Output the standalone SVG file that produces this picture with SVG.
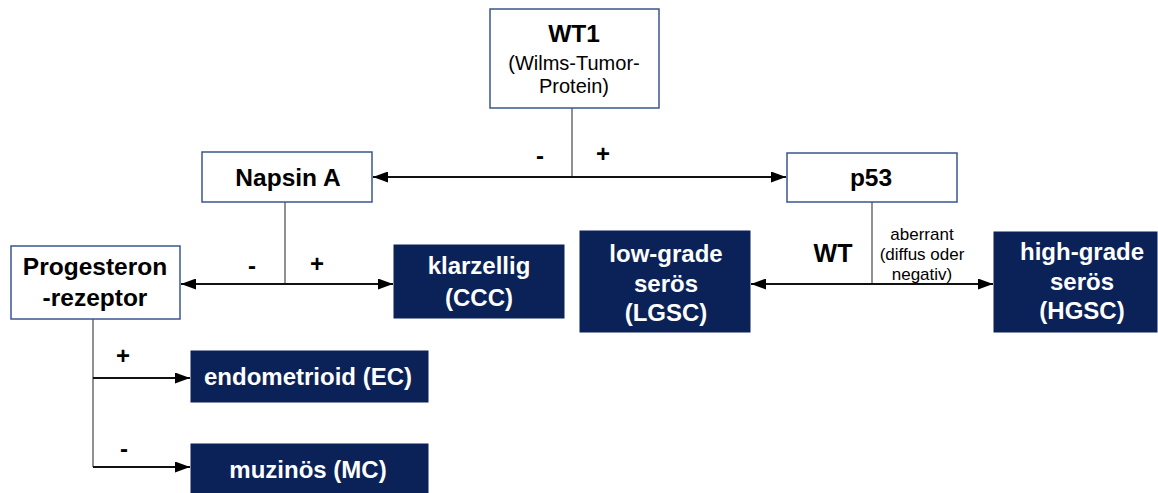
<svg xmlns="http://www.w3.org/2000/svg" width="1158" height="493" viewBox="0 0 1158 493">
<style>
.wbox{fill:#fff;stroke:#3b5592;stroke-width:1.5}
.dbox{fill:#0b2259;stroke:#0b2259;stroke-width:1}
.t{font-family:"Liberation Sans",Arial,sans-serif;text-anchor:middle;dominant-baseline:central}
.b{font-weight:bold}
.w{fill:#fff;font-weight:bold;font-size:24px}
.k{fill:#000}
.ln{stroke:#111;stroke-width:1.8;fill:none}
.vl{stroke:#555;stroke-width:1.3;fill:none}
</style>
<defs>
<marker id="ah" markerWidth="15" markerHeight="11" refX="15" refY="5.5" orient="auto-start-reverse" markerUnits="userSpaceOnUse">
<path d="M0,0 L15,5.5 L0,11 Z" fill="#000"/>
</marker>
</defs>
<g id="connectors">
<line class="vl" x1="572" y1="108" x2="572" y2="177"/>
<line class="ln" x1="373" y1="177" x2="786" y2="177" marker-start="url(#ah)" marker-end="url(#ah)"/>
<line class="vl" x1="285" y1="202" x2="285" y2="284"/>
<line class="ln" x1="181" y1="284" x2="393" y2="284" marker-start="url(#ah)" marker-end="url(#ah)"/>
<line class="vl" x1="872" y1="202" x2="872" y2="284"/>
<line class="ln" x1="751" y1="284" x2="993" y2="284" marker-start="url(#ah)" marker-end="url(#ah)"/>
<polyline class="vl" points="93,319 93,467"/>
<line class="ln" x1="93" y1="378" x2="190" y2="378" marker-end="url(#ah)"/>
<line class="ln" x1="93" y1="467" x2="190" y2="467" marker-end="url(#ah)"/>
<text class="t b k" x="540" y="155" font-size="24">-</text>
<text class="t b k" x="603" y="153" font-size="24">+</text>
<text class="t b k" x="252" y="265" font-size="24">-</text>
<text class="t b k" x="317" y="263" font-size="24">+</text>
<text class="t b k" x="123" y="355" font-size="24">+</text>
<text class="t b k" x="124" y="448" font-size="24">-</text>
<text class="t b k" x="833" y="253" font-size="25">WT</text>
<text class="t k" x="922" y="234" font-size="17">aberrant</text>
<text class="t k" x="922" y="254" font-size="17">(diffus oder</text>
<text class="t k" x="922" y="274" font-size="17">negativ)</text>
</g>
<g id="wt1">
<rect class="wbox" x="490" y="9" width="169" height="99"/>
<text class="t b k" x="574" y="33" font-size="24.5">WT1</text>
<text class="t k" x="574" y="63" font-size="20">(Wilms-Tumor-</text>
<text class="t k" x="574" y="86" font-size="20">Protein)</text>
</g>
<g id="napsin">
<rect class="wbox" x="202" y="152" width="170" height="50"/>
<text class="t b k" x="288" y="177" font-size="24.5">Napsin A</text>
</g>
<g id="p53">
<rect class="wbox" x="787" y="153" width="170" height="49"/>
<text class="t b k" x="871" y="177" font-size="24.5">p53</text>
</g>
<g id="progesteron">
<rect class="wbox" x="11" y="246" width="169" height="73"/>
<text class="t b k" x="95" y="266" font-size="24.5">Progesteron</text>
<text class="t b k" x="95" y="297" font-size="24.5">-rezeptor</text>
</g>
<g id="klarzellig">
<rect class="dbox" x="394" y="245" width="170" height="73"/>
<text class="t w" x="479" y="265">klarzellig</text>
<text class="t w" x="479" y="297">(CCC)</text>
</g>
<g id="lgsc">
<rect class="dbox" x="580" y="231" width="170" height="101"/>
<text class="t w" x="666" y="253">low-grade</text>
<text class="t w" x="666" y="283">serös</text>
<text class="t w" x="666" y="312">(LGSC)</text>
</g>
<g id="hgsc">
<rect class="dbox" x="994" y="232" width="163" height="100"/>
<text class="t w" x="1082" y="251">high-grade</text>
<text class="t w" x="1082" y="281">serös</text>
<text class="t w" x="1082" y="310">(HGSC)</text>
</g>
<g id="ec">
<rect class="dbox" x="191" y="351" width="237" height="51"/>
<text class="t w" x="308" y="376">endometrioid (EC)</text>
</g>
<g id="mc">
<rect class="dbox" x="191" y="444" width="237" height="49"/>
<text class="t w" x="308" y="469">muzinös (MC)</text>
</g>
</svg>
